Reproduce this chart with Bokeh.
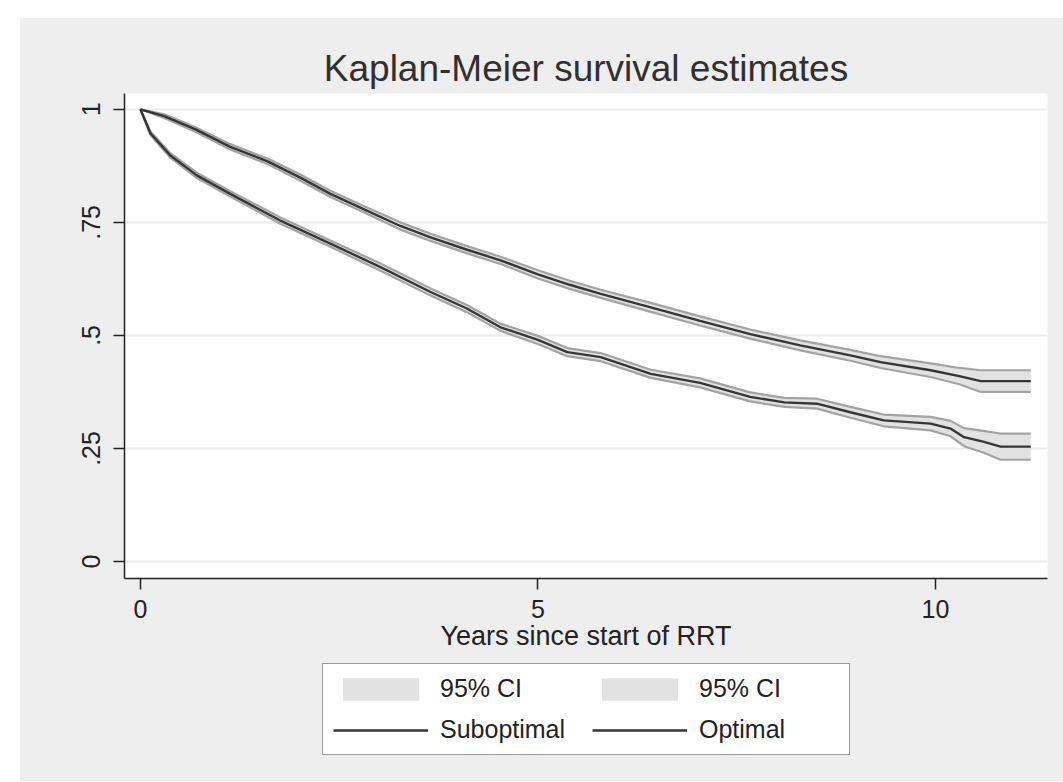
from bokeh.plotting import figure
from bokeh.models import Range1d, FixedTicker, Legend, LegendItem, ColumnDataSource
from bokeh.layouts import column
from bokeh.embed import file_html
from bokeh.resources import INLINE

# ---- data ----
opt_t = [0, 0.3, 0.7, 1.13, 1.6, 2.0, 2.39, 2.8, 3.27, 3.65, 4.1, 4.53, 5.0, 5.4, 5.79,
         6.42, 7.04, 7.67, 8.3, 8.93, 9.31, 9.94, 10.3, 10.57, 11.2]
opt_s = [1.0, 0.985, 0.955, 0.917, 0.885, 0.85, 0.813, 0.78, 0.742, 0.717, 0.69, 0.666, 0.635, 0.612, 0.592,
         0.562, 0.532, 0.503, 0.478, 0.456, 0.441, 0.423, 0.41, 0.399, 0.399]
opt_hi = [1.0, 0.989, 0.960, 0.923, 0.891, 0.857, 0.820, 0.787, 0.750, 0.725, 0.698, 0.674, 0.644, 0.621, 0.601,
          0.572, 0.542, 0.513, 0.489, 0.468, 0.454, 0.438, 0.428, 0.423, 0.423]
opt_lo = [1.0, 0.981, 0.950, 0.911, 0.879, 0.843, 0.806, 0.773, 0.734, 0.709, 0.682, 0.658, 0.626, 0.603, 0.583,
          0.552, 0.522, 0.493, 0.467, 0.444, 0.428, 0.408, 0.392, 0.375, 0.375]

sub_t = [0, 0.126, 0.377, 0.71, 1.13, 1.76, 2.39, 3.02, 3.65, 4.1, 4.53, 5.0, 5.37, 5.79, 6.42,
         7.04, 7.67, 8.1, 8.51, 8.93, 9.35, 9.94, 10.19, 10.36, 10.6, 10.82, 11.2]
sub_s = [1.0, 0.947, 0.898, 0.854, 0.813, 0.754, 0.703, 0.651, 0.596, 0.56, 0.518, 0.49, 0.463, 0.452, 0.415,
         0.395, 0.364, 0.352, 0.349, 0.33, 0.312, 0.305, 0.294, 0.275, 0.265, 0.254, 0.254]
sub_hi = [1.0, 0.951, 0.903, 0.860, 0.819, 0.761, 0.710, 0.659, 0.604, 0.568, 0.526, 0.499, 0.472, 0.461, 0.424,
          0.405, 0.374, 0.362, 0.360, 0.342, 0.325, 0.320, 0.311, 0.295, 0.289, 0.283, 0.283]
sub_lo = [1.0, 0.943, 0.893, 0.848, 0.807, 0.747, 0.696, 0.643, 0.588, 0.552, 0.510, 0.481, 0.454, 0.443, 0.406,
          0.385, 0.354, 0.342, 0.338, 0.318, 0.299, 0.290, 0.277, 0.255, 0.241, 0.225, 0.225]

x_ticks = [0, 5, 10]
y_ticks = [0, 0.25, 0.5, 0.75, 1]
y_tick_labels = ["0", ".25", ".5", ".75", "1"]
legend_labels = ["95% CI", "95% CI", "Suboptimal", "Optimal"]

FONT = "Liberation Sans"
BG = "#eeeeee"
BAND = "#e2e2e2"
EDGE = "#a3a3a3"
LINE = "#363636"

p = figure(frame_width=923, frame_height=485, output_backend="svg", toolbar_location=None,
           x_range=Range1d(-0.2, 11.41), y_range=Range1d(-0.0376, 1.035),
           min_border_left=104, min_border_right=16, min_border_top=75, min_border_bottom=72)
p.border_fill_color = BG
p.background_fill_color = "white"
p.outline_line_color = None

p.title.text = "Kaplan-Meier survival estimates"
p.title.align = "center"
p.title.text_font = FONT
p.title.text_font_size = "37px"
p.title.text_font_style = "normal"
p.title.text_color = "#303030"
p.title.standoff = 9

src_o = ColumnDataSource(dict(t=opt_t, s=opt_s, lo=opt_lo, hi=opt_hi))
src_s = ColumnDataSource(dict(t=sub_t, s=sub_s, lo=sub_lo, hi=sub_hi))

p.varea(x="t", y1="lo", y2="hi", source=src_s, fill_color=BAND)
p.varea(x="t", y1="lo", y2="hi", source=src_o, fill_color=BAND)
for src in (src_s, src_o):
    p.line(x="t", y="lo", source=src, line_color=EDGE, line_width=2.2)
    p.line(x="t", y="hi", source=src, line_color=EDGE, line_width=2.2)
p.line(x="t", y="s", source=src_s, line_color=LINE, line_width=2.4)
p.line(x="t", y="s", source=src_o, line_color=LINE, line_width=2.4)

# axes
p.xaxis.ticker = FixedTicker(ticks=x_ticks)
p.yaxis.ticker = FixedTicker(ticks=y_ticks)
p.yaxis.major_label_overrides = {v: l for v, l in zip(y_ticks, y_tick_labels)}
p.yaxis.major_label_orientation = "vertical"
for ax in (p.xaxis[0], p.yaxis[0]):
    ax.major_label_text_font = FONT
    ax.major_label_text_font_size = "25px"
    ax.major_label_text_color = "#222222"
    ax.major_tick_out = 11
    ax.major_tick_in = 0
    ax.minor_tick_out = 0
    ax.minor_tick_in = 0
    ax.axis_line_color = "#222222"
    ax.axis_line_width = 1.5
    ax.major_tick_line_color = "#222222"
    ax.major_tick_line_width = 1.5
p.xaxis.major_label_standoff = 10
p.yaxis.major_label_standoff = 13
p.xaxis.axis_label = "Years since start of RRT"
p.xaxis.axis_label_text_font = FONT
p.xaxis.axis_label_text_font_size = "27px"
p.xaxis.axis_label_text_font_style = "normal"
p.xaxis.axis_label_text_color = "#222222"
p.xaxis.axis_label_standoff = 0

p.xgrid.grid_line_color = None
p.ygrid.grid_line_color = "#ebebeb"
p.ygrid.grid_line_width = 2

# ---- legend strip below the plot (its glyphs sit outside its visible range) ----
q = figure(frame_width=923, height=128, output_backend="svg", toolbar_location=None,
           x_range=Range1d(100, 101), y_range=Range1d(100, 101),
           min_border_left=104, min_border_right=16, min_border_top=0, min_border_bottom=0)
q.axis.visible = False
q.grid.visible = False
q.outline_line_color = None
q.background_fill_color = BG
q.border_fill_color = BG
lb1 = q.varea(x="t", y1="lo", y2="hi", source=src_s, fill_color=BAND)
lb2 = q.varea(x="t", y1="lo", y2="hi", source=src_o, fill_color=BAND)
ll1 = q.line(x="t", y="s", source=src_s, line_color=LINE, line_width=2.4)
ll2 = q.line(x="t", y="s", source=src_o, line_color=LINE, line_width=2.4)

legend = Legend(items=[LegendItem(label=lab, renderers=[r])
                       for lab, r in zip(legend_labels, [lb1, lb2, ll1, ll2])],
                ncols=2, orientation="horizontal")
legend.location = (198, 26)
legend.label_text_font = FONT
legend.label_text_font_size = "25px"
legend.label_text_color = "#222222"
legend.glyph_width = 95
legend.glyph_height = 28
legend.label_height = 28
legend.label_width = 140
legend.label_standoff = 12
legend.spacing = 12
legend.padding = 10
legend.margin = 0
legend.border_line_color = "#333333"
legend.border_line_width = 1
legend.background_fill_color = "white"
legend.background_fill_alpha = 1
q.add_layout(legend)

layout = column(p, q, spacing=0, margin=(18, 0, 0, 20), styles={"background-color": BG})
open("out.html", "w").write(file_html(layout, INLINE))
